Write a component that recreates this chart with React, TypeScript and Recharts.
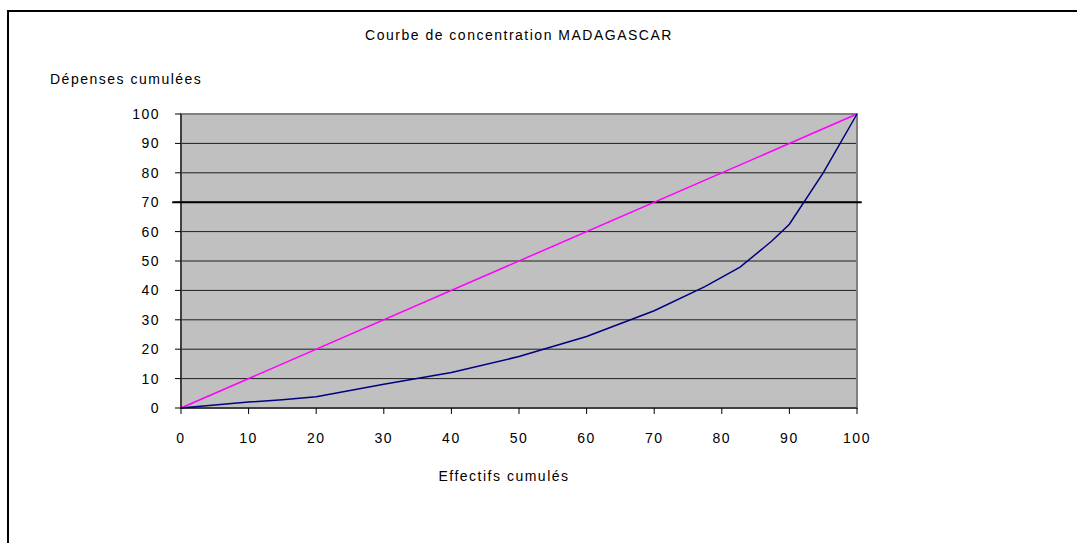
import React from 'react';
import {
  LineChart, Line, XAxis, YAxis, CartesianGrid, ReferenceLine, ReferenceArea,
} from 'recharts';

// Effectifs cumulés (x) / Dépenses cumulées (y)
const effectifs = [0, 10, 15, 20, 30, 40, 50, 60, 70, 77.5, 82.7, 87.4, 90, 95, 100];
const depenses = [0, 2, 2.8, 3.8, 8.1, 12.1, 17.5, 24.3, 33.1, 41.3, 47.9, 56.8, 62.5, 80, 100];
const egalite = [0, 100];

const xTicks = [0, 10, 20, 30, 40, 50, 60, 70, 80, 90, 100];
const yTicks = [0, 10, 20, 30, 40, 50, 60, 70, 80, 90, 100];
const seuil = 70;

const curveData = effectifs.map((x, i) => ({ x, y: depenses[i] }));
const diagData = egalite.map((v) => ({ x: v, y: v }));

const FONT = '"Liberation Sans", Arial, sans-serif';
const textStyle = { fontSize: 14, letterSpacing: 1.5, color: '#000', whiteSpace: 'nowrap' as const };

export default function App() {
  return (
    <div style={{ position: 'fixed', left: 0, top: 0, width: 1077, height: 543, overflow: 'hidden', background: '#fff', fontFamily: FONT }}>
      {/* outer frame */}
      <div style={{ position: 'absolute', left: 7, top: 10, width: 1200, height: 700, border: '2px solid #000' }} />

      <div style={{ ...textStyle, position: 'absolute', left: 0, width: 1038, top: 27, textAlign: 'center' }}>
        Courbe de concentration MADAGASCAR
      </div>
      <div style={{ ...textStyle, position: 'absolute', left: 50, top: 71 }}>Dépenses cumulées</div>
      <div style={{ ...textStyle, position: 'absolute', left: 0, width: 1008, top: 468, textAlign: 'center' }}>
        Effectifs cumulés
      </div>

      <div style={{ position: 'absolute', left: 0, top: 0 }}>
        <LineChart width={1077} height={543} margin={{ top: 114, right: 220, bottom: 105, left: 141 }}>
          <CartesianGrid vertical={false} fill="#C0C0C0" stroke="#000" strokeOpacity={0.85} />
          <ReferenceArea x1={0} x2={100} y1={0} y2={100} fill="none" fillOpacity={0} stroke="#808080" strokeWidth={2} />
          <XAxis
            type="number" dataKey="x" domain={[0, 100]} ticks={xTicks} interval={0}
            height={30} tickSize={6} tickMargin={19}
            axisLine={{ stroke: '#000' }} tickLine={{ stroke: '#000' }}
            tick={{ fontSize: 14, fill: '#000', fontFamily: FONT, letterSpacing: 1.5 }}
          />
          <YAxis
            type="number" dataKey="y" domain={[0, 100]} ticks={yTicks} interval={0}
            width={40} tickSize={6} tickMargin={15}
            axisLine={{ stroke: '#000' }} tickLine={{ stroke: '#000' }}
            tick={{ fontSize: 14, fill: '#000', fontFamily: FONT, letterSpacing: 1.5 }}
          />
          <ReferenceLine
            segment={[{ x: -1.3, y: seuil }, { x: 100.7, y: seuil }]}
            ifOverflow="visible" stroke="#000" strokeWidth={2}
          />
          <Line data={diagData} dataKey="y" type="linear" stroke="#FF00FF" strokeWidth={1.5} dot={false} isAnimationActive={false} />
          <Line data={curveData} dataKey="y" type="linear" stroke="#000080" strokeWidth={1.5} dot={false} isAnimationActive={false} />
        </LineChart>
      </div>
    </div>
  );
}
